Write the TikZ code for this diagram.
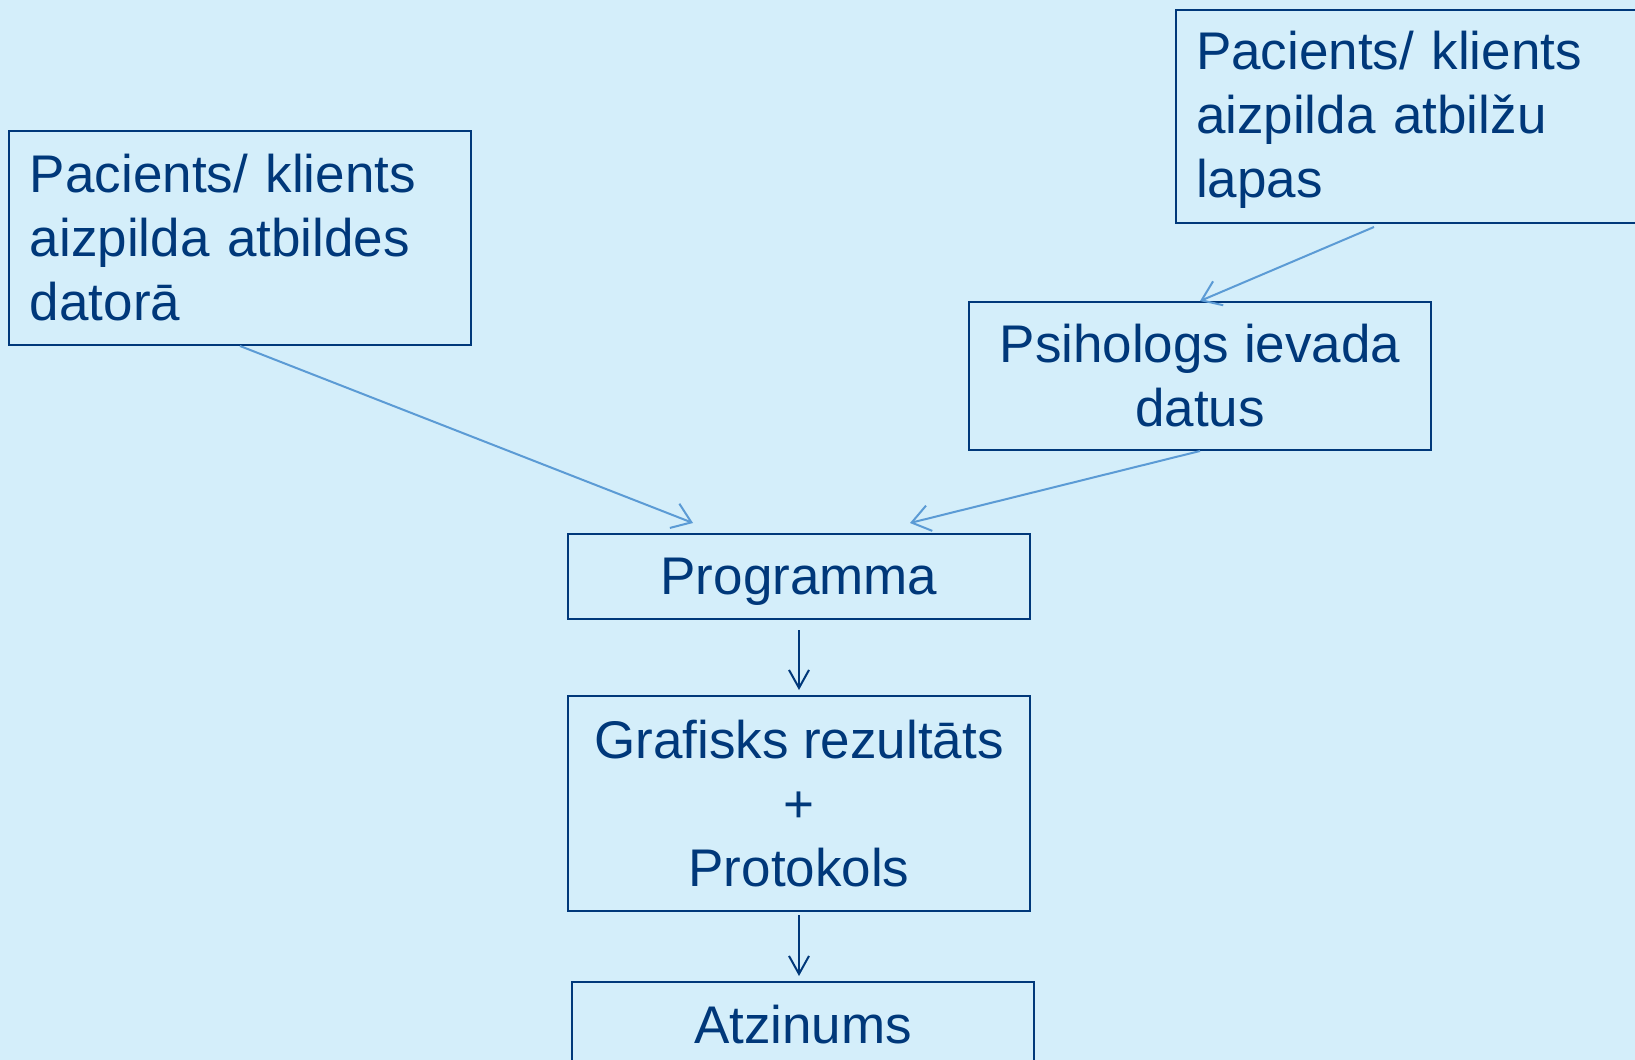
\documentclass[tikz,border=0pt]{standalone}
\usepackage{fontspec}
\setmainfont{Liberation Sans}
\usepackage{xcolor}
\usetikzlibrary{arrows.meta}

\definecolor{bgblue}{RGB}{212,238,250}
\definecolor{darkblue}{RGB}{0,56,122}
\definecolor{lightarrow}{RGB}{91,155,213}

\begin{document}
\begin{tikzpicture}[
  x=0.5pt, y=-0.5pt,
  box/.style = {rectangle, draw=darkblue, line width=1pt, text=darkblue, anchor=north west, inner sep=0pt, font=\fontsize{26.5}{32}\selectfont},
  leftbox/.style = {box, align=left, minimum height=107pt},
  midbox/.style = {box, align=center, minimum width=231pt},
  feed/.style = {-{Straight Barb[length=9pt, width=13pt]}, draw=lightarrow, line width=1pt},
  flow/.style = {-{Straight Barb[length=9pt, width=10pt]}, draw=darkblue, line width=1pt}
]

\useasboundingbox (0,0) rectangle (1635,1060);
\fill[bgblue] (0,0) rectangle (1635,1060);
\clip (0,0) rectangle (1635,1060);

\node[leftbox, inner xsep=10.5pt, text width=210pt] (pcdator) at (8,130) {Pacients/ klients\\aizpilda atbildes\\datorā};
\node[leftbox, minimum height=106.5pt, inner xsep=10pt, text width=240pt] (pclapas) at (1175,9) {\strut Pacients/ klients\\aizpilda atbilžu\\lapas};
\node[midbox, minimum height=74pt] (psiho) at (968,301) {Psihologs ievada\\datus};
\node[midbox, minimum height=42.5pt, text depth=0pt] (prog) at (567,533) {Programma};
\node[midbox, minimum height=107.5pt] (graf) at (567,695) {Grafisks rezultāts\\+\\Protokols};
\node[midbox, minimum height=42.5pt, text depth=0pt] (atz) at (571,981) {Atzinums};

\coordinate (lapasout) at (1374,227);
\coordinate (progin1) at (693,523);
\coordinate (progin2) at (910,523);

\draw[feed] (pcdator.south) -- (progin1);
\draw[feed] (lapasout) -- (psiho.north);
\draw[feed] (psiho.south) -- (progin2);
\draw[flow, shorten <=5pt, shorten >=2.5pt] (prog.south) -- (graf.north);
\draw[flow, shorten <=1.5pt, shorten >=2.5pt] (graf.south) -- (graf.south |- atz.north);

\end{tikzpicture}
\end{document}
